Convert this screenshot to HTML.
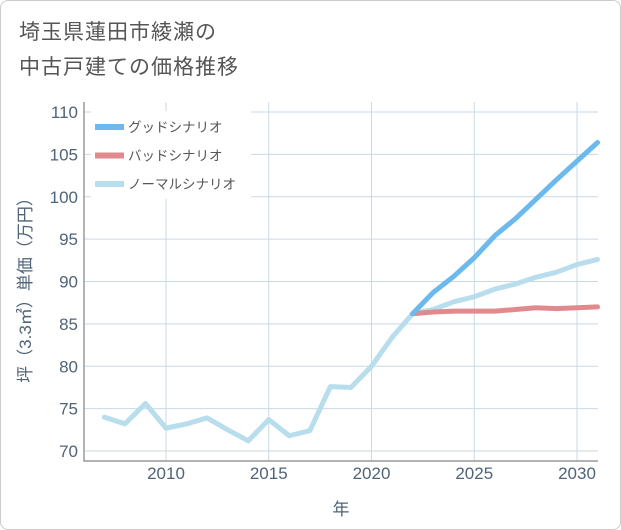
<!DOCTYPE html>
<html><head><meta charset="utf-8">
<style>
body{margin:0;background:#fff;}
#wrap{position:relative;width:619px;height:528px;border:1px solid #ccc;border-radius:8px;background:#fff;overflow:hidden;}
.t{font-family:"Liberation Sans","Noto Sans CJK JP",sans-serif;}
#title{position:absolute;left:18px;top:14px;font-size:21px;line-height:35px;color:#555;letter-spacing:1px;}
</style></head><body>
<div id="wrap">
<div id="title" class="t">埼玉県蓮田市綾瀬の<br>中古戸建ての価格推移</div>
<svg id="chart" width="621" height="530" style="position:absolute;left:0;top:0"></svg>
</div>
<script>
const years=[2007,2008,2009,2010,2011,2012,2013,2014,2015,2016,2017,2018,2019,2020,2021,2022,2023,2024,2025,2026,2027,2028,2029,2030,2031];
const normalVals=[74,73.2,75.6,72.7,73.2,73.9,72.5,71.2,73.7,71.8,72.4,77.6,77.5,80,83.4,86.2,86.7,87.6,88.2,89.1,89.7,90.5,91.1,92,92.6];
const scenarioYears=[2022,2023,2024,2025,2026,2027,2028,2029,2030,2031];
const goodVals=[86.2,88.7,90.6,92.8,95.4,97.4,99.7,102,104.2,106.4];
const badVals=[86.2,86.4,86.5,86.5,86.5,86.7,86.9,86.8,86.9,87];
const yTicks=[70,75,80,85,90,95,100,105,110];
const xTicks=[2010,2015,2020,2025,2030];
const legendLabels=["グッドシナリオ","バッドシナリオ","ノーマルシナリオ"];
const colors=["#6cb9ee","#e08a8e","#b8dded"];

const svg=document.getElementById('chart');
const NS='http://www.w3.org/2000/svg';
const L=83,R=597,T=101,B=460;
const x=v=>165+(v-2010)*(576-165)/20;
const y=v=>450-(v-70)*(450-111)/40;
function mk(tag,attrs){const e=document.createElementNS(NS,tag);for(const k in attrs)e.setAttribute(k,attrs[k]);svg.appendChild(e);return e;}

yTicks.forEach(v=>{
  const g=mk('line',{x1:L,x2:R,y1:y(v),y2:y(v),stroke:'#c9d9e6','stroke-width':1});
  
  
  const t=mk('text',{x:L-6,y:y(v)+6,'text-anchor':'end','font-size':17,fill:'#4f6478',class:'t'});
  t.textContent=v;
  
  
});
xTicks.forEach(v=>{
  const g=mk('line',{x1:x(v),x2:x(v),y1:T,y2:B,stroke:'#c9d9e6','stroke-width':1});
  
  
  const t=mk('text',{x:x(v),y:478,'text-anchor':'middle','font-size':17,fill:'#4f6478',class:'t'});
  t.textContent=v;
  
  
});
const ax=mk('polyline',{points:`${L},${T} ${L},${B} ${R},${B}`,fill:'none',stroke:'#999','stroke-width':1.5});



function line(xs,vs,c,name){
  const p=mk('polyline',{points:xs.map((yr,i)=>x(yr)+','+y(vs[i])).join(' '),fill:'none',stroke:c,'stroke-width':5,'stroke-linejoin':'round','stroke-linecap':'round'});
  
  
}
line(years,normalVals,colors[2],'normal-scenario-line');
line(scenarioYears,badVals,colors[1],'bad-scenario-line');
line(scenarioYears,goodVals,colors[0],'good-scenario-line');

const lb=mk('rect',{x:90,y:110,width:160,height:88,fill:'#fff'});


legendLabels.forEach((s,i)=>{
  const yy=126+i*28.5;
  const r=mk('rect',{x:94,y:yy-3,width:29,height:6,fill:colors[i]});
  
  
  const t=mk('text',{x:127,y:yy+5,'font-size':13.5,fill:'#555',class:'t'});
  t.textContent=s;
  
  
});
const xt=mk('text',{x:340,y:514,'text-anchor':'middle','font-size':17,fill:'#4f6478',class:'t'});
xt.textContent='年';


const yt=mk('text',{x:0,y:0,'text-anchor':'middle','font-size':17,fill:'#4f6478',class:'t',transform:'translate(30,285) rotate(-90)'});
yt.textContent='坪（3.3㎡）単価（万円）';


</script>
</body></html>
